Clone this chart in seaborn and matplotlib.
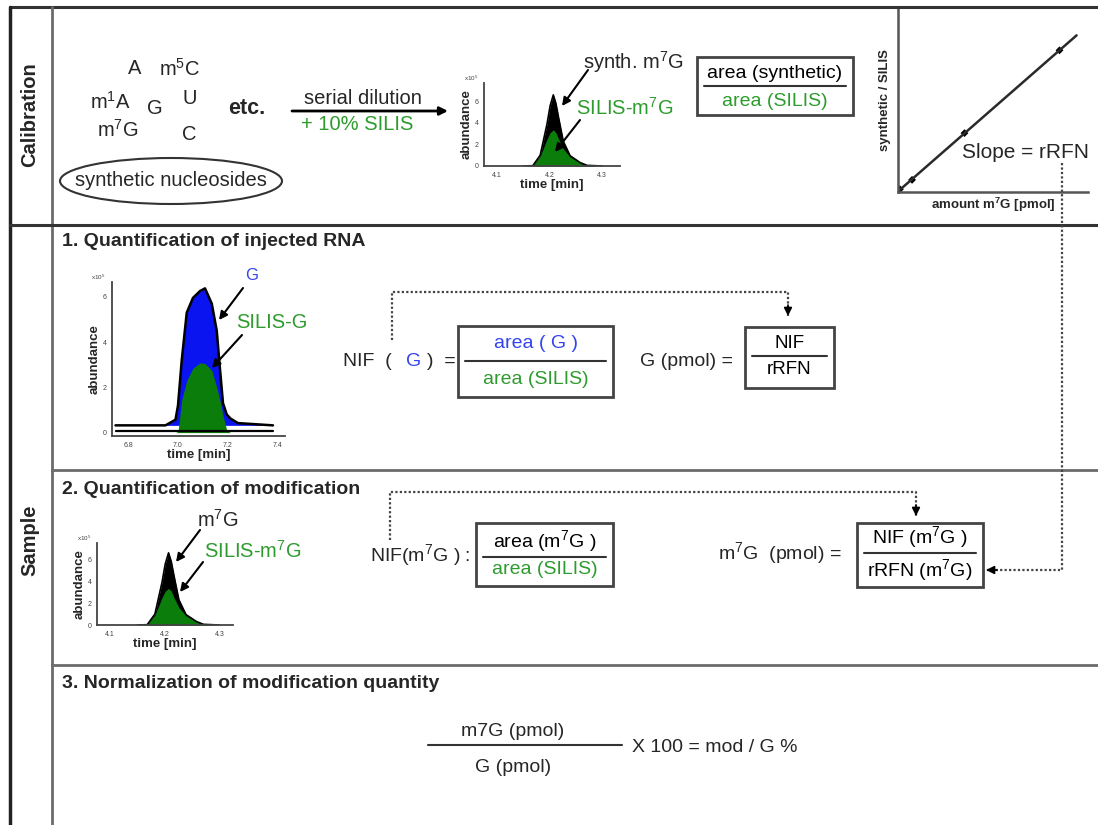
import numpy as np
import matplotlib
matplotlib.use("Agg")
import matplotlib.pyplot as plt
from matplotlib.patches import Rectangle, Ellipse
import seaborn as sns

# ---- data ----
# calibration chromatogram: synthetic m7G + SILIS (same trace reused for the sample in step 2)
m7g_time = [4.15, 4.168, 4.182, 4.195, 4.201, 4.207, 4.212, 4.217, 4.226, 4.239, 4.258, 4.271, 4.30]
m7g_synth = [0, 0.03, 1.0, 3.9, 5.6, 6.6, 5.8, 4.5, 2.3, 0.95, 0.32, 0.06, 0]
m7g_silis = [0, 0.02, 0.9, 2.5, 3.1, 3.35, 3.1, 2.5, 1.6, 0.85, 0.3, 0.05, 0]
m7g_xticks = [4.1, 4.2, 4.3]

# injected RNA chromatogram: G and SILIS-G
g_time = [6.75, 6.95, 6.99, 7.0, 7.015, 7.035, 7.06, 7.088, 7.108, 7.135, 7.155, 7.168, 7.18, 7.195, 7.21, 7.24, 7.38]
g_total = [0.32, 0.32, 0.57, 1.2, 3.2, 5.3, 5.95, 6.25, 6.37, 5.7, 4.5, 2.8, 1.3, 0.8, 0.62, 0.42, 0.32]
g_silis = [0, 0, 0, 0.05, 1.45, 2.3, 2.85, 3.08, 3.05, 2.75, 2.0, 1.4, 0.75, 0.1, 0, 0, 0]
g_baseline = 0.32
g_xticks = [6.8, 7.0, 7.2, 7.4]
abund_yticks = [0, 2, 4, 6]

# calibration curve points (amount m7G vs synthetic/SILIS)
calib_amount = [0.1, 0.74, 3.5, 8.5]
calib_ratio = [0.15, 0.66, 3.2, 7.7]
calib_range = [0.1, 9.4]

sns.set_style("white")
plt.rcParams["font.family"] = ["Liberation Sans", "DejaVu Sans"]
plt.rcParams["mathtext.fontset"] = "custom"
plt.rcParams["mathtext.rm"] = "Liberation Sans"
plt.rcParams["mathtext.bf"] = "Liberation Sans:bold"
plt.rcParams["mathtext.it"] = "Liberation Sans:italic"

W, H = 1098, 825
GREEN_TXT = "#2e9b2e"
GREEN_FILL = "#0b7d0b"
BLUE_FILL = "#0a14f0"
BLUE_TXT = "#3344ee"
FRAME = "#6b6b6b"
FS = 14.5

fig = plt.figure(figsize=(W / 100, H / 100), dpi=100)


def px_axes(x0, y0, x1, y1):
    return fig.add_axes([x0 / W, 1 - y1 / H, (x1 - x0) / W, (y1 - y0) / H])


def style_chrom(a, xticks, xlim, ylim, lab_fs=9.5):
    a.set_xlim(*xlim)
    a.set_ylim(*ylim)
    a.set_facecolor("none")
    for s in ["top", "right"]:
        a.spines[s].set_visible(False)
    for s in ["left", "bottom"]:
        a.spines[s].set_color("#444444")
        a.spines[s].set_linewidth(1.3)
    a.set_xticks(xticks)
    a.set_xticklabels([f"{t:.1f}" for t in xticks])
    a.set_yticks(abund_yticks)
    a.tick_params(labelsize=5, colors="#444444", length=2.5, width=0.8, pad=1.5)
    a.set_xlabel("time [min]", fontsize=lab_fs, fontweight="bold", labelpad=0)
    a.set_ylabel("abundance", fontsize=lab_fs, fontweight="bold", labelpad=1)
    a.text(-0.04, 1.0, "x10$^5$", transform=a.transAxes, fontsize=4.5, color="#444444",
           ha="right", va="bottom")


def draw_m7g(a):
    a.fill_between(m7g_time, 0, m7g_synth, color="black", lw=0)
    a.fill_between(m7g_time, 0, m7g_silis, color=GREEN_FILL, lw=0)
    sns.lineplot(x=m7g_time, y=m7g_synth, ax=a, color="black", lw=1.2)


# ---- chromatogram, calibration row ----
ax_c1 = px_axes(484, 83, 620, 166)
draw_m7g(ax_c1)
style_chrom(ax_c1, m7g_xticks, (4.075, 4.334), (0, 7.7))

# ---- calibration curve ----
ax_cal = px_axes(898, 8, 1088, 192)
slope, icpt = np.polyfit(calib_amount, calib_ratio, 1)
fit_y = [slope * v + icpt for v in calib_range]
sns.lineplot(x=calib_range, y=fit_y, ax=ax_cal, color="#2a2a2a", lw=1.8)
sns.scatterplot(x=calib_amount, y=calib_ratio, ax=ax_cal, color="black", s=16, marker="D",
                edgecolor="none")
ax_cal.set_xlim(0, 10)
ax_cal.set_ylim(0, 10)
ax_cal.set_facecolor("none")
ax_cal.set_xticks([])
ax_cal.set_yticks([])
for s in ["top", "right"]:
    ax_cal.spines[s].set_visible(False)
for s in ["left", "bottom"]:
    ax_cal.spines[s].set_color("#555555")
    ax_cal.spines[s].set_linewidth(1.8)
ax_cal.set_xlabel("amount m$^\\mathbf{7}$G [pmol]", fontsize=9.5, fontweight="bold", labelpad=3)
ax_cal.set_ylabel("synthetic / SILIS", fontsize=9.5, fontweight="bold", labelpad=5)

# ---- chromatogram, step 1 ----
ax_g = px_axes(112, 282, 285, 436)
ax_g.fill_between(g_time, g_baseline, g_total, color=BLUE_FILL, lw=0,
                  where=[v > g_baseline for v in g_total], interpolate=True)
ax_g.fill_between(g_time, 0, g_silis, color=GREEN_FILL, lw=0,
                  where=[v > 0 for v in g_silis], interpolate=True)
sns.lineplot(x=g_time, y=g_total, ax=ax_g, color="black", lw=1.8)
sns.lineplot(x=g_time, y=[0.08] * len(g_time), ax=ax_g, color="black", lw=1.6)
style_chrom(ax_g, g_xticks, (6.736, 7.428), (-0.15, 6.65), lab_fs=9.5)

# ---- chromatogram, step 2 ----
ax_c2 = px_axes(97, 543, 233, 625)
draw_m7g(ax_c2)
style_chrom(ax_c2, m7g_xticks, (4.076, 4.325), (0, 7.5), lab_fs=9.5)

# ---- overlay in pixel coordinates for frame, texts and arrows ----
ax = fig.add_axes([0, 0, 1, 1], zorder=10)
ax.set_xlim(0, W)
ax.set_ylim(H, 0)
ax.axis("off")

# frame
ax.plot([10, W], [7, 7], color="#333333", lw=2.2)
ax.plot([10, 10], [7, H], color="#222222", lw=2.5)
ax.plot([52, 52], [7, H], color=FRAME, lw=2)
ax.plot([10, W], [225, 225], color="#333333", lw=2.2)
ax.plot([52, W], [470, 470], color=FRAME, lw=2)
ax.plot([52, W], [665, 665], color=FRAME, lw=2)

ax.text(30, 115, "Calibration", rotation=90, fontsize=FS, fontweight="bold", ha="center", va="center")
ax.text(30, 540, "Sample", rotation=90, fontsize=FS, fontweight="bold", ha="center", va="center")


def arrow(x0, y0, x1, y1, lw=1.5):
    ax.annotate("", xy=(x1, y1), xytext=(x0, y0),
                arrowprops=dict(arrowstyle="-|>", color="black", lw=lw, mutation_scale=12,
                                shrinkA=0, shrinkB=0))


def dotted_path(xs, ys):
    ax.plot(xs, ys, color="#444444", lw=1.6, ls=(0, (1, 1)))
    dx, dy = xs[-1] - xs[-2], ys[-1] - ys[-2]
    n = (dx ** 2 + dy ** 2) ** 0.5
    arrow(xs[-1] - 11 * dx / n, ys[-1] - 11 * dy / n, xs[-1], ys[-1], lw=1.2)


def frac_box(x0, y0, x1, y1, top, bot, ly, ty, by, tc="black", bc=GREEN_TXT, fs=14):
    ax.add_patch(Rectangle((x0, y0), x1 - x0, y1 - y0, fill=False, ec="#444444", lw=2))
    ax.plot([x0 + 7, x1 - 7], [ly, ly], color="#333333", lw=1.5)
    xc = (x0 + x1) / 2
    ax.text(xc, ty, top, color=tc, fontsize=fs, ha="center", va="center")
    ax.text(xc, by, bot, color=bc, fontsize=fs, ha="center", va="center")


# calibration row: nucleosides
for txt, x, y in [("A", 135, 69), ("m$^5$C", 180, 69), ("m$^1$A", 110, 102), ("G", 155, 108),
                  ("U", 190, 99), ("m$^7$G", 118, 130), ("C", 189, 134)]:
    ax.text(x, y, txt, fontsize=FS, ha="center", va="center")
ax.text(247, 108, "etc.", fontsize=15.5, fontweight="bold", ha="center", va="center")
ax.add_patch(Ellipse((171, 181), 222, 46, fill=False, ec="#333333", lw=1.5))
ax.text(171, 181, "synthetic nucleosides", fontsize=FS, ha="center", va="center")

arrow(292, 111, 448, 111, lw=2)
ax.text(363, 99, "serial dilution", fontsize=FS, ha="center", va="center")
ax.text(357, 124, "+ 10% SILIS", fontsize=FS, color=GREEN_TXT, ha="center", va="center")

ax.text(633, 62, "synth. m$^7$G", fontsize=FS, ha="center", va="center")
arrow(588, 70, 562, 106)
ax.text(625, 108, "SILIS-m$^7$G", fontsize=FS, color=GREEN_TXT, ha="center", va="center")
arrow(580, 120, 555, 152)

frac_box(697, 57, 853, 115, "area (synthetic)", "area (SILIS)", 86, 73, 101)

ax.text(1025, 152, "Slope = rRFN", fontsize=15, ha="center", va="center")

# step 1
ax.text(62, 242, "1. Quantification of injected RNA", fontsize=14, fontweight="bold", ha="left", va="center")
ax.text(252, 275, "G", fontsize=12, color=BLUE_TXT, ha="center", va="center")
arrow(243, 288, 219, 320)
ax.text(272, 322, "SILIS-G", fontsize=FS, color=GREEN_TXT, ha="center", va="center")
arrow(242, 335, 212, 368)

ax.text(343, 362, "NIF  (", fontsize=14, ha="left", va="center")
ax.text(414, 362, "G", fontsize=14, color=BLUE_TXT, ha="center", va="center")
ax.text(427, 362, ")  =", fontsize=14, ha="left", va="center")
frac_box(458, 326, 613, 397, "area ( G )", "area (SILIS)", 361, 343, 380, tc=BLUE_TXT)

ax.text(640, 362, "G (pmol) =", fontsize=14, ha="left", va="center")
frac_box(745, 327, 834, 388, "NIF", "rRFN", 356, 343, 370, bc="black", fs=13.5)
dotted_path([392, 392, 788, 788], [340, 292, 292, 316])

# step 2
ax.text(62, 490, "2. Quantification of modification", fontsize=14, fontweight="bold", ha="left", va="center")
ax.text(218, 520, "m$^7$G", fontsize=FS, ha="center", va="center")
arrow(200, 530, 176, 562)
ax.text(253, 551, "SILIS-m$^7$G", fontsize=FS, color=GREEN_TXT, ha="center", va="center")
arrow(203, 562, 180, 592)

ax.text(370, 555, "NIF(m$^7$G ) :", fontsize=14, ha="left", va="center")
frac_box(476, 523, 613, 586, "area (m$^7$G )", "area (SILIS)", 557, 541, 570)

ax.text(718, 553, "m$^7$G  (pmol) =", fontsize=14, ha="left", va="center")
frac_box(857, 523, 983, 587, "NIF (m$^7$G )", "rRFN (m$^7$G)", 553, 537, 570, bc="black")
dotted_path([390, 390, 916, 916], [540, 492, 492, 516])
dotted_path([1062, 1062, 986], [163, 570, 570])

# step 3
ax.text(62, 683, "3. Normalization of modification quantity", fontsize=14, fontweight="bold", ha="left", va="center")
ax.text(513, 731, "m7G (pmol)", fontsize=14, ha="center", va="center")
ax.plot([428, 622], [745, 745], color="#333333", lw=1.5)
ax.text(513, 767, "G (pmol)", fontsize=14, ha="center", va="center")
ax.text(632, 748, "X 100 = mod / G %", fontsize=14, ha="left", va="center")

fig.savefig("out.png", dpi=100)
